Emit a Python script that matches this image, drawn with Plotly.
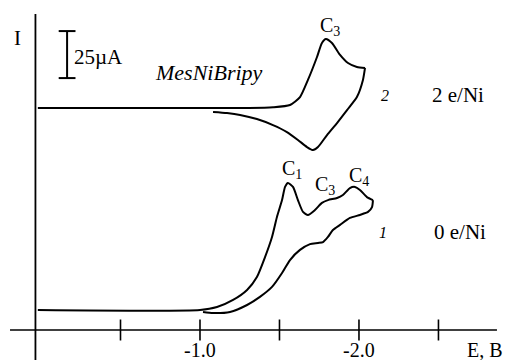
import plotly.graph_objects as go

# ---- data (E in V, I in uA) ----
# curve 2 (2 e/Ni), forward sweep
c2_fwd_E = [0.02, -1.00, -1.31, -1.46, -1.566, -1.629, -1.679, -1.736, -1.767, -1.792, -1.830, -1.881, -1.931, -1.987, -2.038]
c2_fwd_I = [118.1, 118.1, 118.1, 118.5, 119.7, 123.9, 133.0, 145.2, 152.7, 154.8, 152.7, 146.3, 142.0, 139.9, 139.4]
# curve 2, reverse sweep
c2_rev_E = [-2.038, -2.025, -1.987, -1.925, -1.862, -1.799, -1.742, -1.711, -1.673, -1.616, -1.547, -1.459, -1.358, -1.252, -1.170, -1.082]
c2_rev_I = [139.4, 133.0, 123.9, 117.0, 110.1, 103.7, 97.3, 95.7, 97.3, 101.1, 105.3, 109.0, 112.2, 114.4, 115.4, 116.0]

# curve 1 (0 e/Ni), forward sweep
c1_fwd_E = [0.02, -1.000, -1.107, -1.208, -1.296, -1.358, -1.409, -1.453, -1.484, -1.516, -1.535, -1.553, -1.585,
            -1.616, -1.648, -1.679, -1.723, -1.767, -1.805, -1.862, -1.899, -1.943, -1.975, -2.006, -2.050, -2.088]
c1_fwd_I = [10.6, 10.6, 12.2, 16.0, 21.3, 28.2, 38.8, 49.5, 60.1, 69.1, 76.1, 78.2, 76.1,
            69.1, 62.8, 61.2, 63.8, 67.6, 69.1, 70.2, 71.8, 75.5, 76.1, 74.5, 70.7, 69.1]
# curve 1, reverse sweep
c1_rev_E = [-2.088, -2.082, -2.057, -2.006, -1.943, -1.881, -1.836, -1.805, -1.774, -1.742, -1.692, -1.629,
            -1.566, -1.516, -1.453, -1.377, -1.296, -1.189, -1.082, -1.019]
c1_rev_I = [69.1, 65.4, 62.8, 61.2, 59.6, 55.9, 53.2, 49.5, 46.8, 46.3, 45.7, 42.6,
            37.2, 30.3, 22.9, 17.6, 13.3, 9.6, 9.0, 9.6]

tick_E = [-0.5, -1.0, -1.5, -2.0, -2.5]
tick_labels = {-1.0: "-1.0", -2.0: "-2.0"}
scale_bar_I = [134.0, 159.0]   # 25 uA

FONT = "'Liberation Serif', 'Times New Roman', Times, serif"
BLACK = "#000000"

fig = go.Figure()

# axes drawn as lines
fig.add_trace(go.Scatter(x=[0.195, -2.868], y=[0, 0], mode="lines",
                         line=dict(color=BLACK, width=1.6), hoverinfo="skip"))
fig.add_trace(go.Scatter(x=[0.035, 0.035], y=[-16, 168.1], mode="lines",
                         line=dict(color=BLACK, width=1.8), hoverinfo="skip"))
# tick marks crossing the axis
fig.add_trace(go.Scatter(x=tick_E, y=[0] * len(tick_E), mode="markers",
                         marker=dict(symbol="line-ns", size=15, line=dict(color=BLACK, width=1.6)),
                         hoverinfo="skip"))

# scale bar
fig.add_trace(go.Scatter(x=[-0.164, -0.164], y=scale_bar_I, mode="lines+markers",
                         line=dict(color=BLACK, width=2),
                         marker=dict(symbol="line-ew", size=12, line=dict(color=BLACK, width=2)),
                         hoverinfo="skip"))

# curves
for xs, ys in [(c2_fwd_E, c2_fwd_I), (c2_rev_E, c2_rev_I), (c1_fwd_E, c1_fwd_I), (c1_rev_E, c1_rev_I)]:
    fig.add_trace(go.Scatter(x=xs, y=ys, mode="lines",
                             line=dict(color=BLACK, width=2, shape="spline", smoothing=0.6),
                             hoverinfo="skip"))

def txt(x, y, s, size=19, xanchor="center", italic=False):
    fig.add_annotation(x=x, y=y, text=(f"<i>{s}</i>" if italic else s), showarrow=False,
                       xanchor=xanchor, yanchor="middle",
                       font=dict(family=FONT, size=size, color=BLACK))

txt(0.151, 155.3, "I", size=21)
txt(-0.195, 145.0, "25µA", size=21, xanchor="left")
txt(-0.704, 137.2, "MesNiBripy", size=22, xanchor="left", italic=True)
txt(-1.818, 161.7, "C<sub>3</sub>", size=20)
txt(-2.164, 125.0, "2", size=16, italic=True)
txt(-2.623, 125.0, "2 e/Ni", size=21)
txt(-1.579, 85.6, "C<sub>1</sub>", size=20)
txt(-1.786, 76.6, "C<sub>3</sub>", size=20)
txt(-2.0, 81.4, "C<sub>4</sub>", size=20)
txt(-2.151, 52.1, "1", size=16, italic=True)
txt(-2.635, 52.1, "0 e/Ni", size=21)
for e, lab in tick_labels.items():
    txt(e, -10.8, lab, size=20)
txt(-2.79, -10.8, "E, B", size=20)

fig.update_layout(
    width=510, height=360,
    margin=dict(l=0, r=0, t=0, b=0),
    paper_bgcolor="white", plot_bgcolor="white",
    showlegend=False,
    font=dict(family=FONT, color=BLACK),
    xaxis=dict(range=[0.258, -2.950], visible=False, fixedrange=True),
    yaxis=dict(range=[-15.96, 175.53], visible=False, fixedrange=True),
)

fig.write_html("out.html", config={"displayModeBar": False},
               post_script="document.body.style.margin='0';document.body.style.overflow='hidden';")
